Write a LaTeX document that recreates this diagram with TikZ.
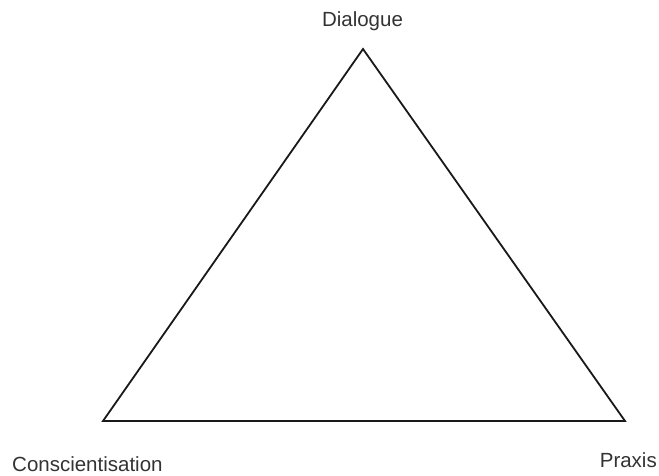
\documentclass[tikz,border=0pt]{standalone}
\usepackage{fontspec}
\setmainfont{Liberation Sans}
\begin{document}
\begin{tikzpicture}[x=1pt,y=1pt,
  lbl/.style={inner sep=0pt, text=black!80, font=\fontsize{20.5}{23}\selectfont},
  edge/.style={line width=1.8pt, black!90, line join=miter}]
\useasboundingbox (0,0) rectangle (659,475);
\coordinate (A) at (363,426);
\coordinate (B) at (103,54);
\coordinate (C) at (625,54);
\draw[edge] (A) -- (B) -- (C) -- cycle;
\node[lbl, anchor=base] (dia) at (362.5,448) {Dialogue};
\node[lbl, anchor=base west] (con) at (12,4) {Conscientisation};
\node[lbl, anchor=base east] (pra) at (657,8) {Praxis};
\end{tikzpicture}
\end{document}
